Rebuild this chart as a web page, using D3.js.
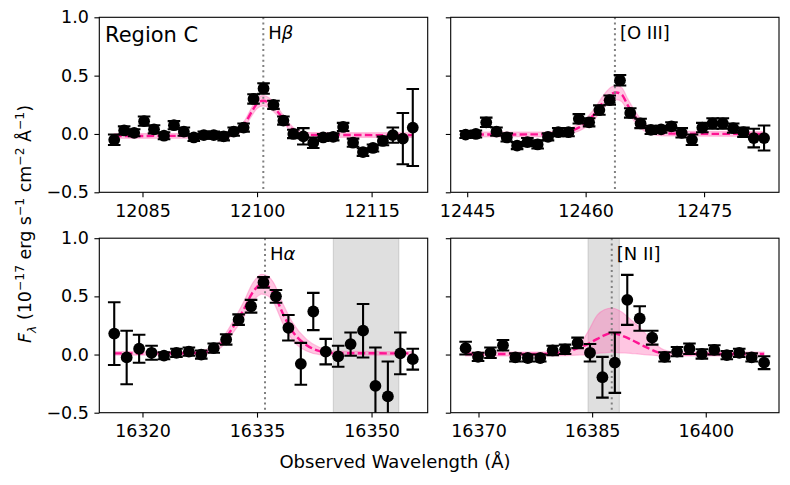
<!DOCTYPE html>
<html><head><meta charset="utf-8">
<script src="https://cdn.jsdelivr.net/npm/d3@7"></script>
<style>body{margin:0;background:#fff} text{font-family:"DejaVu Sans",sans-serif;fill:#000}</style>
</head><body><svg id="c" width="790" height="485"></svg>
<script>
// ---------- data ----------
const hbWave = [12081.30,12082.60,12083.91,12085.21,12086.51,12087.82,12089.12,12090.42,12091.72,12093.03,12094.33,12095.63,12096.94,12098.24,12099.54,12100.85,12102.15,12103.45,12104.75,12106.06,12107.36,12108.66,12109.97,12111.27,12112.57,12113.87,12115.18,12116.48,12117.78,12119.09,12120.39];
const hbFlux = [-0.05,0.03,0.01,0.11,0.04,-0.015,0.075,0.02,-0.03,-0.01,-0.01,-0.02,0.02,0.055,0.30,0.39,0.25,0.115,0.0,-0.02,-0.075,-0.03,-0.025,0.06,-0.075,-0.155,-0.12,-0.06,-0.01,-0.04,0.055];
const hbErr  = [0.045,0.035,0.03,0.04,0.035,0.03,0.035,0.035,0.03,0.03,0.03,0.035,0.035,0.035,0.04,0.045,0.035,0.035,0.036,0.07,0.045,0.03,0.03,0.035,0.035,0.033,0.03,0.037,0.065,0.22,0.33];
const hbModelWave = [12081.3,12094,12096.5,12097.7,12098.5,12099.3,12100.0,12100.8,12101.6,12102.4,12103.3,12104.2,12105.2,12106.5,12120.4];
const hbModelMid  = [-0.017,-0.016,-0.005,0.03,0.10,0.19,0.26,0.285,0.265,0.215,0.14,0.065,0.015,-0.008,-0.01];
const hbModelLo   = [-0.037,-0.036,-0.025,0.008,0.072,0.154,0.218,0.24,0.222,0.177,0.108,0.039,-0.006,-0.028,-0.03];
const hbModelHi   = [0.003,0.004,0.015,0.052,0.128,0.226,0.302,0.33,0.308,0.253,0.172,0.091,0.036,0.012,0.01];

const oiiiWave = [12444.80,12446.10,12447.41,12448.71,12450.01,12451.32,12452.62,12453.92,12455.23,12456.53,12457.83,12459.14,12460.44,12461.74,12463.05,12464.35,12465.65,12466.96,12468.26,12469.56,12470.87,12472.17,12473.47,12474.78,12476.08,12477.38,12478.69,12479.99,12481.29,12482.60];
const oiiiFlux = [-0.005,0.0,0.10,0.02,-0.03,-0.10,-0.07,-0.09,-0.025,0.015,0.015,0.13,0.10,0.205,0.29,0.46,0.18,0.09,0.035,0.04,0.065,0.01,-0.05,0.055,0.09,0.09,0.05,0.015,-0.035,-0.035];
const oiiiErr  = [0.03,0.03,0.04,0.035,0.035,0.03,0.035,0.035,0.03,0.035,0.035,0.04,0.035,0.04,0.04,0.045,0.04,0.04,0.035,0.03,0.035,0.04,0.045,0.04,0.045,0.045,0.04,0.04,0.08,0.107];
const oiiiModelWave = [12444.8,12455,12457,12458.1,12459.8,12461.1,12462.3,12463.2,12463.9,12464.6,12465.3,12466.5,12467.8,12469.1,12471,12482.6];
const oiiiModelMid  = [-0.005,-0.003,0.01,0.026,0.083,0.17,0.28,0.34,0.355,0.335,0.25,0.126,0.04,0.01,0.003,0.0];
const oiiiModelLo   = [-0.025,-0.023,-0.012,0.001,0.048,0.125,0.225,0.28,0.295,0.275,0.195,0.081,0.01,-0.012,-0.017,-0.02];
const oiiiModelHi   = [0.015,0.017,0.032,0.051,0.118,0.215,0.335,0.40,0.415,0.395,0.305,0.171,0.07,0.032,0.023,0.02];

const haWave = [16316.30,16317.93,16319.56,16321.19,16322.82,16324.45,16326.08,16327.70,16329.33,16330.96,16332.59,16334.22,16335.85,16337.48,16339.11,16340.74,16342.37,16344.00,16345.63,16347.26,16348.89,16350.51,16352.14,16353.77,16355.40];
const haFlux = [0.18,-0.025,0.05,0.015,-0.01,0.015,0.025,0.0,0.055,0.13,0.30,0.415,0.62,0.50,0.23,-0.08,0.37,0.025,-0.015,0.09,0.205,-0.27,-0.36,0.01,-0.04];
const haErr  = [0.27,0.23,0.12,0.06,0.03,0.035,0.035,0.035,0.04,0.045,0.045,0.055,0.045,0.055,0.11,0.18,0.16,0.11,0.09,0.1,0.23,0.33,0.30,0.18,0.09];
const haModelWave = [16316.3,16325,16327.5,16329.0,16330.1,16331.0,16331.9,16333.2,16334.5,16335.6,16336.5,16337.1,16338.4,16339.7,16341.5,16343.2,16345,16355.4];
const haModelMid  = [0.01,0.01,0.015,0.035,0.08,0.15,0.24,0.38,0.54,0.605,0.585,0.54,0.35,0.195,0.08,0.03,0.012,0.01];
const haModelLo   = [-0.005,-0.005,-0.002,0.013,0.05,0.11,0.19,0.315,0.46,0.52,0.50,0.455,0.265,0.12,0.03,0.0,-0.006,-0.005];
const haModelHi   = [0.025,0.025,0.032,0.057,0.11,0.19,0.29,0.445,0.62,0.69,0.67,0.625,0.435,0.27,0.13,0.06,0.03,0.025];

const niiWave = [16368.30,16369.94,16371.58,16373.23,16374.87,16376.51,16378.15,16379.79,16381.43,16383.08,16384.72,16386.36,16388.00,16389.64,16391.28,16392.93,16394.57,16396.21,16397.85,16399.49,16401.13,16402.78,16404.42,16406.06,16407.70];
const niiFlux = [0.055,-0.02,0.015,0.08,-0.025,-0.03,-0.03,0.035,0.045,0.10,0.015,-0.195,-0.07,0.47,0.31,0.145,-0.02,0.025,0.05,0.005,0.04,-0.005,0.015,-0.025,-0.07];
const niiErr  = [0.055,0.035,0.045,0.045,0.035,0.03,0.03,0.04,0.04,0.045,0.075,0.175,0.26,0.215,0.105,0.06,0.04,0.04,0.045,0.04,0.04,0.035,0.035,0.035,0.055];
const niiModelWave = [16368.3,16378,16381.3,16383.1,16384.4,16385.7,16386.6,16387.6,16388.8,16390.1,16391.0,16391.9,16392.7,16393.6,16394.5,16396,16407.7];
const niiModelMid  = [0.005,0.005,0.02,0.055,0.09,0.135,0.165,0.185,0.165,0.13,0.10,0.07,0.045,0.02,0.01,0.005,0.005];
const niiModelLo   = [-0.012,-0.012,-0.01,-0.005,0.0,0.01,0.015,0.02,0.015,0.01,0.005,0.0,-0.005,-0.01,-0.012,-0.012,-0.012];
const niiModelHi   = [0.02,0.02,0.03,0.07,0.19,0.34,0.385,0.40,0.37,0.30,0.25,0.19,0.135,0.075,0.04,0.02,0.02];

const lineNames = ["H\u03b2","[O III]","H\u03b1","[N II]"];
const lineWaves = [12100.82,12463.71,16336.05,16387.59];
const maskSpans = [null,null,[16345.0,16353.57],[16384.46,16388.6]];
const xTicks = [[12085,12100,12115],[12445,12460,12475],[16320,16335,16350],[16370,16385,16400]];
const yTicks = [-0.5,0.0,0.5,1.0];
const yDomain = [-0.5,1.0];
const regionLabel = "Region C";
const xLabel = "Observed Wavelength (\u00c5)";

// ---------- build ----------
const panels = [
  {wave:hbWave,flux:hbFlux,err:hbErr,mw:hbModelWave,mm:hbModelMid,ml:hbModelLo,mh:hbModelHi},
  {wave:oiiiWave,flux:oiiiFlux,err:oiiiErr,mw:oiiiModelWave,mm:oiiiModelMid,ml:oiiiModelLo,mh:oiiiModelHi},
  {wave:haWave,flux:haFlux,err:haErr,mw:haModelWave,mm:haModelMid,ml:haModelLo,mh:haModelHi},
  {wave:niiWave,flux:niiFlux,err:niiErr,mw:niiModelWave,mm:niiModelMid,ml:niiModelLo,mh:niiModelHi}
];
const colX = [[99.3,427.7],[450.7,779]];
const rowY = [[17.3,192.3],[238.2,412.7]];
const FS = 17.5;
const svg = d3.select("#c");
const fmtMinus = v => d3.format(".1f")(v).replace("-","\u2212");

panels.forEach((p,i)=>{
  const c = i%2, r = Math.floor(i/2);
  const [x0,x1] = colX[c], [y0,y1] = rowY[r];
  const ext = d3.extent(p.wave), pad = (ext[1]-ext[0])*0.05;
  const x = d3.scaleLinear().domain([ext[0]-pad,ext[1]+pad]).range([x0,x1]);
  const y = d3.scaleLinear().domain(yDomain).range([y1,y0]);
  const g = svg.append("g");
  const cid = "clip"+i;
  svg.append("clipPath").attr("id",cid).append("rect").attr("x",x0).attr("y",y0).attr("width",x1-x0).attr("height",y1-y0);
  const pg = g.append("g").attr("clip-path",`url(#${cid})`);

  if (maskSpans[i]) {
    pg.append("rect").attr("x",x(maskSpans[i][0])).attr("width",x(maskSpans[i][1])-x(maskSpans[i][0]))
      .attr("y",y0).attr("height",y1-y0).attr("fill","#808080").attr("fill-opacity",0.25)
      .attr("stroke","#808080").attr("stroke-opacity",0.25).attr("stroke-width",1.2);
  }
  const mdl = p.mw.map((w,k)=>({w,m:p.mm[k],lo:p.ml[k],hi:p.mh[k]}));
  pg.append("path").datum(mdl)
    .attr("d",d3.area().x(d=>x(d.w)).y0(d=>y(d.lo)).y1(d=>y(d.hi)).curve(d3.curveMonotoneX))
    .attr("fill","#ff69b4").attr("fill-opacity",0.38).attr("stroke","#ff69b4").attr("stroke-opacity",0.4).attr("stroke-width",1.2);
  pg.append("path").datum(mdl)
    .attr("d",d3.line().x(d=>x(d.w)).y(d=>y(d.m)).curve(d3.curveMonotoneX))
    .attr("fill","none").attr("stroke","#ff1493").attr("stroke-width",2.4).attr("stroke-dasharray","7.5,3.3");
  pg.append("line").attr("x1",x(lineWaves[i])).attr("x2",x(lineWaves[i])).attr("y1",y0).attr("y2",y1)
    .attr("stroke","#808080").attr("stroke-width",2).attr("stroke-dasharray","2,3.3");

  const pts = p.wave.map((w,k)=>({w,f:p.flux[k],e:p.err[k]}));
  const eb = pg.append("g").selectAll("g").data(pts).join("g");
  eb.append("line").attr("x1",d=>x(d.w)).attr("x2",d=>x(d.w)).attr("y1",d=>y(d.f-d.e)).attr("y2",d=>y(d.f+d.e))
    .attr("stroke","#000").attr("stroke-width",2.1);
  [-1,1].forEach(s=>{
    eb.append("line").attr("x1",d=>x(d.w)-6.3).attr("x2",d=>x(d.w)+6.3).attr("y1",d=>y(d.f+s*d.e)).attr("y2",d=>y(d.f+s*d.e))
      .attr("stroke","#000").attr("stroke-width",2.1);
  });
  eb.append("circle").attr("cx",d=>x(d.w)).attr("cy",d=>y(d.f)).attr("r",5.9).attr("fill","#000");

  // axes
  const ax = g.append("g").attr("transform",`translate(0,${y1})`)
    .call(d3.axisBottom(x).tickValues(xTicks[i]).tickFormat(d3.format("d")).tickSize(4.9).tickPadding(7.4).tickSizeOuter(0));
  const ay = g.append("g").attr("transform",`translate(${x0},0)`)
    .call(d3.axisLeft(y).tickValues(yTicks).tickFormat(c===0?fmtMinus:()=> "").tickSize(4.9).tickPadding(5.5).tickSizeOuter(0));
  [ax,ay].forEach(a=>{
    a.select(".domain").remove();
    a.selectAll("line").attr("stroke","#000").attr("stroke-width",1.1);
    a.selectAll("text").attr("font-size",FS).attr("font-family","DejaVu Sans").attr("fill","#000");
  });
  g.append("rect").attr("x",x0).attr("y",y0).attr("width",x1-x0).attr("height",y1-y0)
    .attr("fill","none").attr("stroke","#000").attr("stroke-width",1.1);

  // line label
  const lt = g.append("text").attr("x",x(lineWaves[i])+5).attr("y",y0+21.5).attr("font-size",18);
  const nm = lineNames[i];
  if (nm.length===2) { lt.append("tspan").text(nm[0]); lt.append("tspan").attr("font-style","italic").text(nm[1]); }
  else lt.text(nm);
  if (i===0) g.append("text").attr("x",105).attr("y",41.7).attr("font-size",21).text(regionLabel);
});

// x label
svg.append("text").attr("x",395).attr("y",468).attr("text-anchor","middle").attr("font-size",18).text(xLabel);
// y label
const yl = svg.append("text").attr("transform","translate(31,224) rotate(-90)").attr("text-anchor","middle").attr("font-size",17.5);
const segs = [["F","i",0],["\u03bb","i",1],[" (10","",0],["\u221217","",-1],[" erg s","",0],["\u22121","",-1],[" cm","",0],["\u22122","",-1],[" \u00c5","",0],["\u22121","",-1],[")","",0]];
let cur = 0;
segs.forEach(([t,st,lvl])=>{
  const target = lvl===1?4.5:(lvl===-1?-7:0);
  const ts = yl.append("tspan").attr("dy",target-cur).text(t);
  if (st==="i") ts.attr("font-style","italic");
  if (lvl!==0) ts.attr("font-size",12.3);
  cur = target;
});
</script></body></html>
